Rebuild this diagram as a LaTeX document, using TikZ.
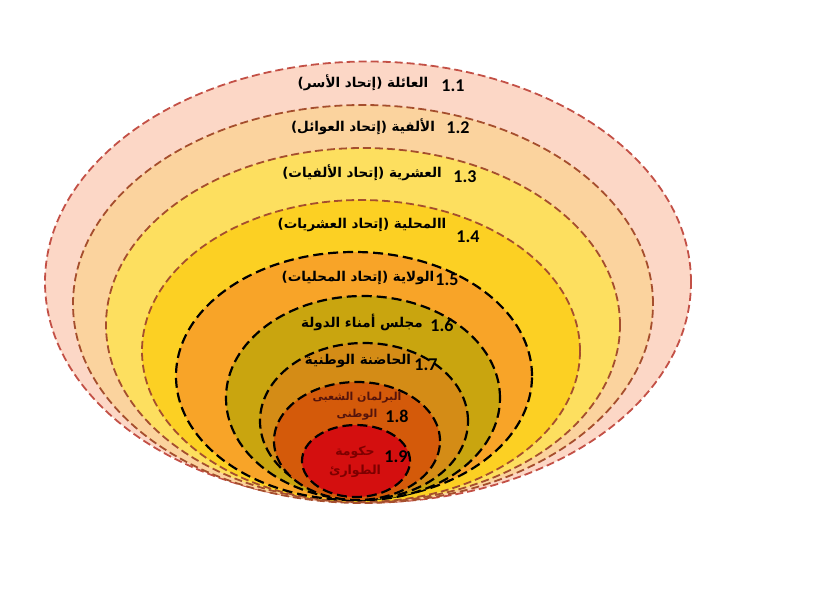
\documentclass[tikz,border=0pt]{standalone}
\usepackage{fontspec}
\setmainfont{Carlito}
\newfontfamily\arabicfont[Script=Arabic]{DejaVu Sans}
\TeXXeTstate=1
\usetikzlibrary{shapes.geometric}

\definecolor{fillA}{RGB}{252,215,198}
\definecolor{fillB}{RGB}{251,211,158}
\definecolor{fillC}{RGB}{253,223,95}
\definecolor{fillD}{RGB}{252,208,35}
\definecolor{fillE}{RGB}{248,164,40}
\definecolor{fillF}{RGB}{201,165,15}
\definecolor{fillG}{RGB}{212,140,22}
\definecolor{fillH}{RGB}{212,90,10}
\definecolor{fillI}{RGB}{212,15,15}
\definecolor{ringred}{RGB}{195,80,70}
\definecolor{ringbrown}{RGB}{165,78,45}
\definecolor{brownink}{RGB}{85,20,12}
\definecolor{redink}{RGB}{125,0,0}

\begin{document}
\begin{tikzpicture}[x=1pt, y=-1pt,
        ring/.style={ellipse, inner sep=0pt, outer sep=0pt, line width=1.8pt,
        dash pattern=on 8pt off 4pt},
        redring/.style={ring, draw=ringred},
        brownring/.style={ring, draw=ringbrown},
        blackring/.style={ring, draw=black, line width=2.2pt, dash pattern=on 10pt off 5pt},
        ringtext/.style={font=\arabicfont\bfseries\fontsize{13.5}{16}\selectfont, inner sep=0pt},
        smalltext/.style={font=\arabicfont\bfseries\fontsize{11}{17}\selectfont, inner sep=0pt,
        text=brownink, align=center},
        num/.style={font=\bfseries\fontsize{18}{20}\selectfont, inner sep=0pt}]
        \useasboundingbox (0,0) rectangle (837,590);

        % rings, outer to inner
        \node (family) [redring, fill=fillA, minimum width=646pt, minimum height=441pt] at (368,282) {};
        \node (thousand) [brownring, fill=fillB, minimum width=580pt, minimum height=398pt] at (363,304) {};
        \node (tenth) [brownring, fill=fillC, minimum width=514pt, minimum height=354pt] at (363,325) {};
        \node (local) [brownring, fill=fillD, minimum width=438pt, minimum height=302pt] at (361,351) {};
        \node (state) [blackring, fill=fillE, minimum width=356pt, minimum height=248pt] at (354,376) {};
        \node (trustees) [blackring, fill=fillF, minimum width=274pt, minimum height=204pt] at (363,398) {};
        \node (incubator) [blackring, fill=fillG, minimum width=208pt, minimum height=156pt] at (364,421) {};
        \node (parliament) [blackring, fill=fillH, minimum width=166pt, minimum height=118pt] at (357,441) {};
        \node (emergency) [blackring, fill=fillI, minimum width=108pt, minimum height=72pt] at (356,461) {};

        % texts
        \node (familytext) [ringtext] at (363,83) {\beginR العائلة (إتحاد الأسر)\endR};
        \node (familynum) [num] at (453,86) {1.1};
        \node (thousandtext) [ringtext] at (363,127) {\beginR الألفية (إتحاد العوائل)\endR};
        \node (thousandnum) [num] at (458,128) {1.2};
        \node (tenthtext) [ringtext] at (362,173) {\beginR العشرية (إتحاد الألفيات)\endR};
        \node (tenthnum) [num] at (465,177) {1.3};
        \node (localtext) [ringtext] at (362,225) {\beginR االمحلية (إتحاد العشريات)\endR};
        \node (localnum) [num] at (468,237) {1.4};
        \node (statetext) [ringtext] at (358,278) {\beginR الولاية (إتحاد المحليات)\endR};
        \node (statenum) [num] at (447,280) {1.5};
        \node (truteestext) [ringtext] at (362,322) {\beginR مجلس أمناء الدولة\endR};
        \node (trusteesnum) [num] at (442,325) {1.6};
        \node (incubatortext) [ringtext] at (358,361) {\beginR الحاضنة الوطنية\endR};
        \node (incubatornum) [num] at (426,365) {1.7};
        \node (parliamenttext) [smalltext] at (357,406) {\beginR البرلمان الشعبى\endR\\\beginR الوطنى\endR};
        \node (parliamentnum) [num] at (397,416) {1.8};
        \node (emergencytext) [smalltext, text=redink, font=\arabicfont\bfseries\fontsize{12.5}{19}\selectfont]
            at (355,462) {\beginR حكومة\endR\\\beginR الطوارئ\endR};
        \node (emergencynum) [num] at (396,457) {1.9};
    \end{tikzpicture}
\end{document}
